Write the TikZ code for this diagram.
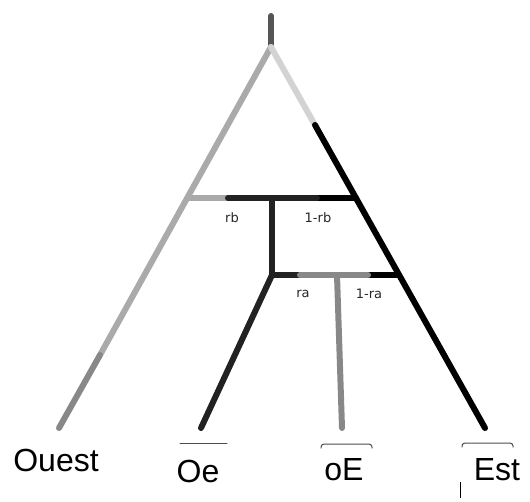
\documentclass[tikz,border=0pt]{standalone}
\usepackage{fontspec}
\setmainfont{Liberation Sans}
\newfontfamily\smallfont{DejaVu Sans}
\usetikzlibrary{shapes,arrows}
\definecolor{gLight}{HTML}{D3D3D3}
\definecolor{gMid}{HTML}{AAAAAA}
\definecolor{gDark}{HTML}{888888}
\definecolor{gStem}{HTML}{555555}
\definecolor{gBlack}{HTML}{222222}

\begin{document}
\begin{tikzpicture}[x=1pt,y=-1pt,line cap=round,
  branch/.style={line width=6pt},
  prop/.style={font=\smallfont\fontsize{13}{15}\selectfont,text=black!85},
  leaf/.style={font=\fontsize{32}{36}\selectfont},
  brace/.style={line width=1pt,black!70,rounded corners=3pt}]
\useasboundingbox (0,0) rectangle (530,501);
% tree points
\coordinate (top) at (271,16);
\coordinate (apex) at (271,47);
\coordinate (lmid) at (100,355);
\coordinate (ouest) at (59,428);
\coordinate (rmid) at (315,125);
\coordinate (est) at (485,428);
\coordinate (rbL) at (188,198);
\coordinate (rbA) at (228,198);
\coordinate (rbC) at (272,198);
\coordinate (rbB) at (317,198);
\coordinate (rbR) at (356,198);
\coordinate (raC) at (272,275);
\coordinate (raA) at (300,275);
\coordinate (oEtop) at (337,275);
\coordinate (raB) at (368,275);
\coordinate (raR) at (398,275);
\coordinate (oe) at (201,428);
\coordinate (oEbot) at (342,428);
% main branches
\draw[branch,gStem] (top) -- (apex);
\draw[branch,gMid] (apex) -- (lmid);
\draw[branch,gDark] (lmid) -- (ouest);
\draw[branch,gLight] (apex) -- (rmid);
\draw[branch,black] (rmid) -- (est);
% rb bar
\draw[branch,gMid] (rbL) -- (rbA);
\draw[branch,black] (rbB) -- (rbR);
\draw[branch,gBlack] (rbA) -- (rbB);
\draw[branch,gBlack] (rbC) -- (raC);
% ra bar
\draw[branch,black] (raB) -- (raR);
\draw[branch,gBlack] (raC) -- (raA);
\draw[branch,gDark] (raA) -- (raB);
\draw[branch,gDark] (oEtop) -- (oEbot);
\draw[branch,gBlack] (raC) -- (oe);
% proportions
\node[prop] (rb) at (232,218) {rb};
\node[prop] (unrb) at (318,218) {1-rb};
\node[prop] (ra) at (303,294) {ra};
\node[prop] (unra) at (369,294) {1-ra};
% leaves
\node[leaf] (nOuest) at (56,460) {Ouest};
\node[leaf] (nOe) at (198,471) {Oe};
\node[leaf] (noE) at (344,470) {oE};
\node[leaf] (nEst) at (497,470) {Est};
\draw[brace] (180,443) -- (227,443);
\draw[brace] (321,448) -- (321,444) -- (372,444) -- (372,448);
\draw[brace] (462,447) -- (462,443) -- (513,443) -- (513,447);
\draw[line width=1pt,line cap=butt] (460,482) -- (460,498);
\end{tikzpicture}
\end{document}
